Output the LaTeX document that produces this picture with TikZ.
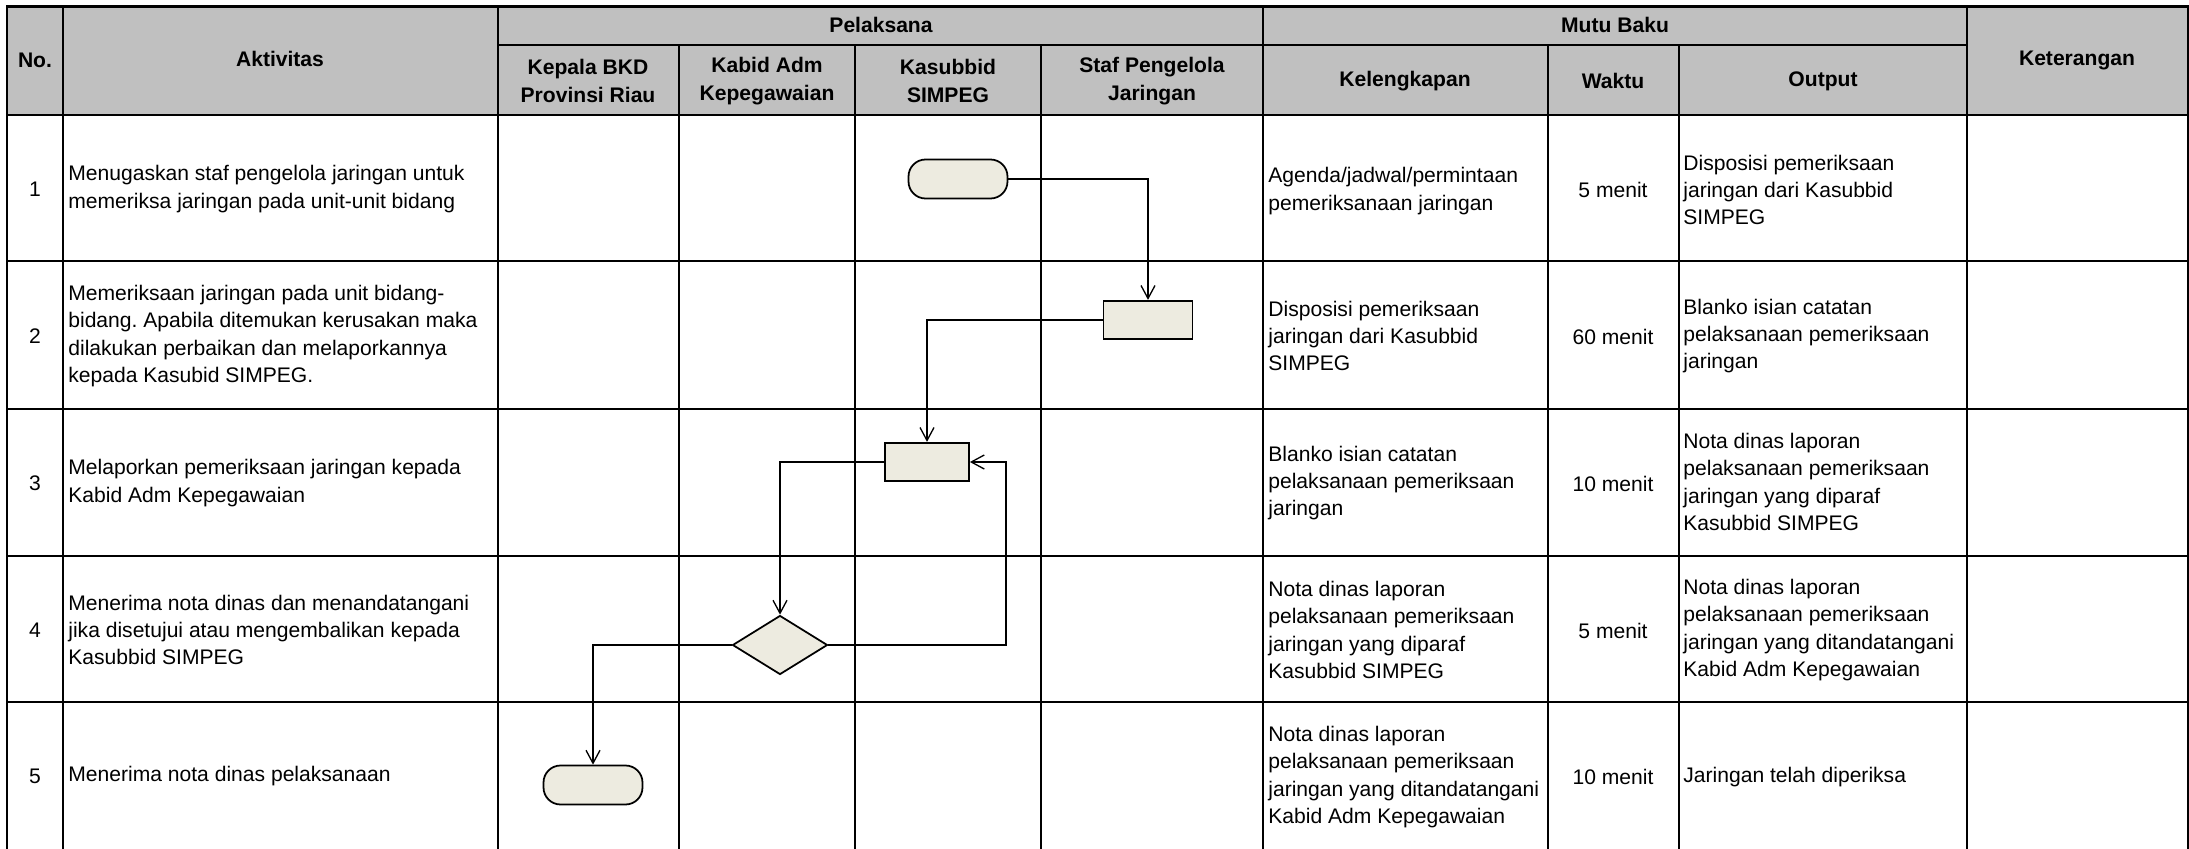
\documentclass[tikz,border=0pt]{standalone}
\usepackage{fontspec}
\setmainfont{Liberation Sans}
\usetikzlibrary{arrows.meta, shapes.geometric, calc}
\definecolor{headgray}{HTML}{C0C0C0}
\definecolor{shapefill}{HTML}{EDEBE0}
\frenchspacing
\tikzset{
    my-grid/.style={
        line width=1.4pt, line cap=rect
    },
    my-head/.style={
        font=\fontsize{12}{15.5}\selectfont\bfseries, align=center, inner sep=0pt
    },
    my-cell/.style={
        font=\fontsize{12}{15.5}\selectfont, align=left, anchor=west, inner sep=0pt
    },
    my-mid/.style={
        font=\fontsize{12}{15.5}\selectfont, align=center, inner sep=0pt
    },
    my-terminal/.style={
        draw, fill=shapefill, line width=1pt, rounded corners=0.34cm,
        minimum width=1.98cm, minimum height=0.78cm, inner sep=0pt
    },
    my-process/.style={
        draw, fill=shapefill, line width=1pt,
        minimum height=0.77cm, inner sep=0pt
    },
    my-decision/.style={
        diamond, draw, fill=shapefill, line width=1pt,
        minimum width=1.9cm, minimum height=1.18cm, inner sep=0pt
    },
    my-flow/.style={
        line width=0.75pt, -{Straight Barb[length=0.26cm, width=0.28cm]}
    },
}

\begin{document}
\begin{tikzpicture}[x=0.02cm, y=-0.02cm]

        \useasboundingbox (0,0) rectangle (2189,848);

        % HEADER BACKGROUND AND GRID
        \fill[headgray] (7,6.5) rectangle (2188,115);
        \draw[my-grid] (7,848) -- (7,6.5) -- (2188,6.5) -- (2188,848);
        \draw[my-grid] (498,45) -- (1967,45);
        \draw[my-grid] (7,115) -- (2188,115);
        \draw[my-grid] (7,261) -- (2188,261);
        \draw[my-grid] (7,409) -- (2188,409);
        \draw[my-grid] (7,556) -- (2188,556);
        \draw[my-grid] (7,702) -- (2188,702);
        \draw[my-grid] (63,6.5) -- (63,848);
        \draw[my-grid] (498,6.5) -- (498,848);
        \draw[my-grid] (1263,6.5) -- (1263,848);
        \draw[my-grid] (1967,6.5) -- (1967,848);
        \draw[my-grid] (679,45) -- (679,848);
        \draw[my-grid] (855,45) -- (855,848);
        \draw[my-grid] (1041,45) -- (1041,848);
        \draw[my-grid] (1548,45) -- (1548,848);
        \draw[my-grid] (1679,45) -- (1679,848);

        % HEADER TEXT
        \node[my-head] (HNO)   at (35,60)    {No.};
        \node[my-head] (HAKT)  at (280,59)   {Aktivitas};
        \node[my-head] (HPEL)  at (881,25)   {Pelaksana};
        \node[my-head] (HMUTU) at (1615,25)  {Mutu Baku};
        \node[my-head] (HKET)  at (2077,60)  {Keterangan};
        \node[my-head] (HKEP)  at (588,81)   {Kepala BKD\\Provinsi Riau};
        \node[my-head] (HKAB)  at (767,81)   {Kabid Adm\\Kepegawaian};
        \node[my-head] (HKAS)  at (948,81)   {Kasubbid\\SIMPEG};
        \node[my-head] (HSTAF) at (1152,81)  {Staf Pengelola\\Jaringan};
        \node[my-head] (HKEL)  at (1405,81)  {Kelengkapan};
        \node[my-head] (HWKT)  at (1613,81)  {Waktu};
        \node[my-head] (HOUT)  at (1823,81)  {Output};

        % NUMBERS
        \node[my-mid] (NO1) at (35,189) {1};
        \node[my-mid] (NO2) at (35,336) {2};
        \node[my-mid] (NO3) at (35,483) {3};
        \node[my-mid] (NO4) at (35,630) {4};
        \node[my-mid] (NO5) at (35,776) {5};

        % AKTIVITAS
        \node[my-cell] (AKT1) at (68,189) {Menugaskan staf pengelola jaringan untuk\\memeriksa jaringan pada unit-unit bidang};
        \node[my-cell] (AKT2) at (68,336) {Memeriksaan jaringan pada unit bidang-\\bidang. Apabila ditemukan kerusakan maka\\dilakukan perbaikan dan melaporkannya\\kepada Kasubid SIMPEG.};
        \node[my-cell] (AKT3) at (68,483) {Melaporkan pemeriksaan jaringan kepada\\Kabid Adm Kepegawaian};
        \node[my-cell] (AKT4) at (68,630) {Menerima nota dinas dan menandatangani\\jika disetujui atau mengembalikan kepada\\Kasubbid SIMPEG};
        \node[my-cell] (AKT5) at (68,776) {Menerima nota dinas pelaksanaan};

        % KELENGKAPAN
        \node[my-cell] (KEL1) at (1268,191) {Agenda/jadwal/permintaan\\pemeriksanaan jaringan};
        \node[my-cell] (KEL2) at (1268,336) {Disposisi pemeriksaan\\jaringan dari Kasubbid\\SIMPEG};
        \node[my-cell] (KEL3) at (1268,483) {Blanko isian catatan\\pelaksanaan pemeriksaan\\jaringan};
        \node[my-cell] (KEL4) at (1268,630) {Nota dinas laporan\\pelaksanaan pemeriksaan\\jaringan yang diparaf\\Kasubbid SIMPEG};
        \node[my-cell] (KEL5) at (1268,777) {Nota dinas laporan\\pelaksanaan pemeriksaan\\jaringan yang ditandatangani\\Kabid Adm Kepegawaian};

        % WAKTU
        \node[my-mid] (WKT1) at (1613,190) {5 menit};
        \node[my-mid] (WKT2) at (1613,337) {60 menit};
        \node[my-mid] (WKT3) at (1613,484) {10 menit};
        \node[my-mid] (WKT4) at (1613,631) {5 menit};
        \node[my-mid] (WKT5) at (1613,777) {10 menit};

        % OUTPUT
        \node[my-cell] (OUT1) at (1683,190) {Disposisi pemeriksaan\\jaringan dari Kasubbid\\SIMPEG};
        \node[my-cell] (OUT2) at (1683,336) {Blanko isian catatan\\pelaksanaan pemeriksaan\\jaringan};
        \node[my-cell] (OUT3) at (1683,482) {Nota dinas laporan\\pelaksanaan pemeriksaan\\jaringan yang diparaf\\Kasubbid SIMPEG};
        \node[my-cell] (OUT4) at (1683,630) {Nota dinas laporan\\pelaksanaan pemeriksaan\\jaringan yang ditandatangani\\Kabid Adm Kepegawaian};
        \node[my-cell] (OUT5) at (1683,777) {Jaringan telah diperiksa};

        % FLOW SHAPES
        \node[my-terminal] (START) at (958,179)  {};
        \node[my-process, minimum width=1.78cm] (PROC2) at (1148,320) {};
        \node[my-process, minimum width=1.68cm] (PROC3) at (927,462)  {};
        \node[my-decision] (DEC4)  at (780,645)  {};
        \node[my-terminal] (END5)  at (593,785)  {};
        \coordinate (BACK) at (1006,645);

        % FLOW CONNECTIONS
        \draw[my-flow] (START.east) -| (PROC2.north);
        \draw[my-flow] (PROC2.west) -| (PROC3.north);
        \draw[my-flow] (PROC3.west) -| (DEC4.north);
        \draw[my-flow] (DEC4.east) -- (BACK) |- (PROC3.east);
        \draw[my-flow] (DEC4.west) -| (END5.north);

    \end{tikzpicture}
\end{document}
